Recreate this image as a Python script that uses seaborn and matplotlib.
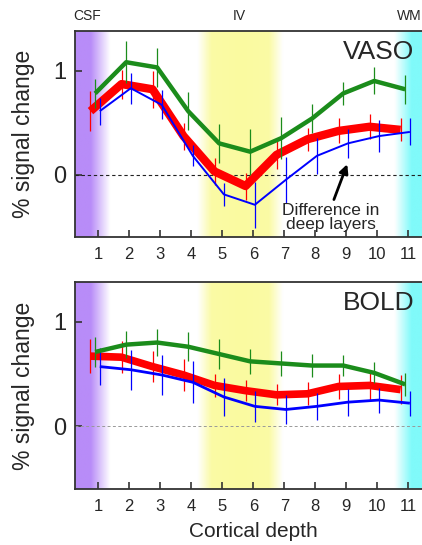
import numpy as np
import pandas as pd
import matplotlib
matplotlib.use("Agg")
import matplotlib.pyplot as plt
import seaborn as sns
from matplotlib.colors import to_rgb

# cortical depth bins
depth = np.arange(1, 12)

# VASO profiles (% signal change) and error bars
vaso_green = [0.78, 1.08, 1.03, 0.61, 0.30, 0.22, 0.35, 0.54, 0.78, 0.90, 0.82]
vaso_green_err = [0.14, 0.20, 0.19, 0.18, 0.19, 0.22, 0.20, 0.14, 0.11, 0.13, 0.14]
vaso_red = [0.61, 0.87, 0.82, 0.37, 0.03, -0.11, 0.19, 0.34, 0.42, 0.46, 0.43]
vaso_red_err = [0.19, 0.14, 0.18, 0.13, 0.13, 0.13, 0.14, 0.11, 0.12, 0.12, 0.11]
vaso_blue = [0.61, 0.83, 0.67, 0.18, -0.19, -0.29, -0.05, 0.18, 0.30, 0.37, 0.41]
vaso_blue_err = [0.13, 0.15, 0.14, 0.10, 0.11, 0.22, 0.22, 0.17, 0.14, 0.15, 0.13]

# BOLD profiles
bold_green = [0.71, 0.78, 0.80, 0.76, 0.69, 0.62, 0.60, 0.58, 0.58, 0.51, 0.40]
bold_green_err = [0.14, 0.13, 0.13, 0.14, 0.14, 0.12, 0.12, 0.11, 0.10, 0.10, 0.11]
bold_red = [0.67, 0.66, 0.57, 0.49, 0.39, 0.34, 0.30, 0.31, 0.38, 0.39, 0.35]
bold_red_err = [0.16, 0.15, 0.15, 0.15, 0.11, 0.10, 0.10, 0.11, 0.12, 0.14, 0.14]
bold_blue = [0.57, 0.54, 0.49, 0.42, 0.28, 0.19, 0.16, 0.19, 0.23, 0.25, 0.22]
bold_blue_err = [0.18, 0.19, 0.19, 0.20, 0.18, 0.15, 0.14, 0.13, 0.13, 0.12, 0.12]

GREEN = "#1b8c1b"
RED = "#ff0000"
BLUE = "#0000ff"

sns.set_theme(style="ticks")
plt.rcParams["font.family"] = ["Liberation Sans", "DejaVu Sans"]

XLIM = (0.25, 11.75)
YLIM = (-0.6, 1.38)


def shade(ax):
    # horizontal colour bands: CSF (purple), layer IV (yellow), WM (cyan)
    xs = np.linspace(XLIM[0], XLIM[1], 800)
    img = np.ones((1, len(xs), 3))
    bands = [
        ("#b88cf8", [(0.25, 1), (0.75, 1), (1.38, 0)]),
        ("#fafaa0", [(4.2, 0), (4.65, 0.95), (5.6, 1), (6.5, 0.95), (6.95, 0)]),
        ("#80fafa", [(10.55, 0), (11.1, 1), (11.75, 1)]),
    ]
    for col, pts in bands:
        px, pa = zip(*pts)
        a = np.interp(xs, px, pa, left=0, right=0)
        rgb = np.array(to_rgb(col))
        img[0] = img[0] * (1 - a[:, None]) + rgb[None, :] * a[:, None]
    ax.imshow(img, extent=(XLIM[0], XLIM[1], YLIM[0], YLIM[1]),
              aspect="auto", zorder=0, interpolation="bilinear")


def draw_panel(ax, series, zero_style, label):
    shade(ax)
    ax.axhline(0, **zero_style, zorder=1)
    for vals, errs, col, off, lw, z in series:
        x = depth + off
        y = np.array(vals)
        e = np.array(errs)
        sns.lineplot(x=x, y=y, ax=ax, color=col, linewidth=lw,
                     solid_capstyle="butt", zorder=z, legend=False)
        ax.vlines(x, y - e, y + e, color=col, linewidth=0.9, zorder=z + 0.5)
    ax.set_xlim(*XLIM)
    ax.set_ylim(*YLIM)
    ax.set_xticks(depth)
    ax.set_yticks([0, 1])
    ax.tick_params(axis="x", direction="in", length=5, width=1.2,
                   labelsize=12, pad=7, color="#333333")
    ax.tick_params(axis="y", direction="in", length=5, width=1.2,
                   labelsize=17, pad=6, color="#333333")
    for s in ["left", "bottom", "top"]:
        ax.spines[s].set_linewidth(1.3)
        ax.spines[s].set_color("#333333")
    ax.spines["right"].set_visible(False)
    ax.set_ylabel("% signal change", fontsize=16.5, labelpad=13)
    ax.set_xlabel("")
    ax.text(11.2, 1.18, label, fontsize=19, ha="right", va="center", zorder=5)


fig = plt.figure(figsize=(4.22, 5.45), dpi=100)
ax1 = fig.add_axes([0.1777, 0.5651, 0.845, 0.378])
ax2 = fig.add_axes([0.1777, 0.1028, 0.845, 0.380])

draw_panel(ax1, [
    (vaso_red, vaso_red_err, RED, -0.25, 6.0, 3),
    (vaso_blue, vaso_blue_err, BLUE, 0.05, 1.4, 4),
    (vaso_green, vaso_green_err, GREEN, -0.1, 3.2, 5),
], dict(color="#222222", linestyle=(0, (3, 2.5)), linewidth=0.8), "VASO")

draw_panel(ax2, [
    (bold_red, bold_red_err, RED, -0.25, 5.5, 3),
    (bold_blue, bold_blue_err, BLUE, 0.05, 2.0, 4),
    (bold_green, bold_green_err, GREEN, -0.1, 3.2, 5),
], dict(color="#999999", linestyle=(0, (3, 2.5)), linewidth=0.7), "BOLD")

ax2.set_xlabel("Cortical depth", fontsize=15, labelpad=6)

# layer labels above top panel
for txt, xv, ha in [("CSF", 0.64, "center"), ("IV", 5.54, "center"), ("WM", 10.64, "left")]:
    ax1.text(xv, 1.073, txt, transform=ax1.get_xaxis_transform(),
             fontsize=10, ha=ha, va="center")

ax1.annotate("", xy=(9.03, 0.1), xytext=(8.6, -0.24),
             arrowprops=dict(arrowstyle="-|>", color="black", lw=2.0,
                             shrinkA=0, shrinkB=0, mutation_scale=13),
             zorder=6)
ax1.text(8.5, -0.41, "Difference in\ndeep layers", fontsize=12.5,
         ha="center", va="center", linespacing=0.95, zorder=6)

fig.savefig("out.png", dpi=100)
